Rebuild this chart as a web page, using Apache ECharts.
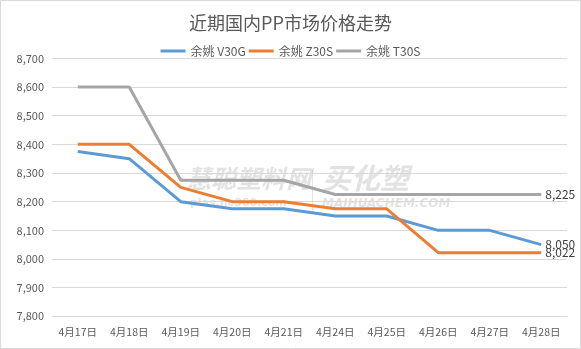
<!DOCTYPE html>
<html>
<head>
<meta charset="utf-8">
<script src="https://cdn.jsdelivr.net/npm/echarts@6/dist/echarts.min.js"></script>
<style>
  html, body { margin: 0; padding: 0; background: #fff; }
  #chart { width: 581px; height: 349px; }
</style>
</head>
<body>
<div id="chart"></div>
<script>
// Trading dates
const categories = ['4月17日', '4月18日', '4月19日', '4月20日', '4月21日', '4月24日', '4月25日', '4月26日', '4月27日', '4月28日'];
// Yuyao PP prices (yuan/ton)
const v30g = [8375, 8350, 8200, 8175, 8175, 8150, 8150, 8100, 8100, 8050];
const z30s = [8400, 8400, 8250, 8200, 8200, 8175, 8175, 8022, 8022, 8022];
const t30s = [8600, 8600, 8275, 8275, 8275, 8225, 8225, 8225, 8225, 8225];
const seriesNames = ['余姚 V30G', '余姚 Z30S', '余姚 T30S'];
const colors = ['#5B9BD5', '#ED7D31', '#A5A5A5'];

const FONT = '"Noto Sans CJK SC", "Microsoft YaHei", sans-serif';
const fmt = v => Number(v).toLocaleString('en-US');
const WM = 'rgba(175,175,175,0.36)';

// the final value of each line is written next to its end
const endLabel = {
  show: true,
  distance: 4,
  color: '#404040',
  fontSize: 12,
  fontFamily: FONT,
  formatter: p => fmt(p.value)
};

function lineSeries(i, values) {
  return {
    name: seriesNames[i],
    type: 'line',
    data: values,
    symbol: 'none',
    lineStyle: { width: 3, color: colors[i] },
    endLabel: endLabel,
    z: 3
  };
}

const chart = echarts.init(document.getElementById('chart'), null, { renderer: 'canvas' });
chart.setOption({
  backgroundColor: '#ffffff',
  animation: false,
  color: colors,
  title: {
    text: '近期国内PP市场价格走势',
    left: 'center',
    top: 9,
    textStyle: { color: '#595959', fontSize: 18, fontWeight: 'normal', fontFamily: FONT }
  },
  legend: {
    top: 40,
    left: 'center',
    icon: 'rect',
    itemWidth: 25,
    itemHeight: 3,
    itemGap: 3,
    textStyle: { color: '#595959', fontSize: 12, fontFamily: FONT },
    data: seriesNames
  },
  grid: { left: 52, right: 14, top: 58.4, bottom: 32.7, containLabel: false },
  xAxis: {
    type: 'category',
    data: categories,
    boundaryGap: true,
    axisLine: { lineStyle: { color: '#d9d9d9' } },
    axisTick: { show: false },
    axisLabel: { interval: 0, color: '#595959', fontSize: 10.5, fontFamily: FONT, margin: 10 }
  },
  yAxis: {
    type: 'value',
    min: 7800,
    max: 8700,
    interval: 100,
    axisLine: { show: false },
    axisTick: { show: false },
    splitLine: { lineStyle: { color: '#d9d9d9' } },
    axisLabel: { color: '#595959', fontSize: 11, fontFamily: FONT, margin: 8, formatter: fmt }
  },
  graphic: [
    { type: 'rect', shape: { x: 0.5, y: 0.5, width: 580, height: 348 }, style: { fill: 'none', stroke: '#d9d9d9', lineWidth: 1 }, silent: true },
    // faint site watermark behind the lines
    { type: 'text', left: 186, top: 166, z: 0, style: { text: '慧聪塑料网', fill: WM, font: 'italic bold 25px "Noto Sans CJK SC", sans-serif' }, silent: true },
    { type: 'text', left: 190, top: 198, z: 0, style: { text: 'plas.hc360.com', fill: WM, font: 'bold 11px "DejaVu Sans", sans-serif' }, silent: true },
    { type: 'rect', shape: { x: 312, y: 170, width: 1, height: 40 }, style: { fill: WM }, silent: true },
    { type: 'text', left: 322, top: 163, z: 0, style: { text: '买化塑', fill: WM, font: 'italic bold 29px "Noto Sans CJK SC", sans-serif' }, silent: true },
    { type: 'text', left: 322, top: 198, z: 0, style: { text: 'MAIHUACHEM.COM', fill: WM, font: 'italic bold 12px "DejaVu Sans", sans-serif' }, silent: true }
  ],
  series: [
    lineSeries(0, v30g),
    lineSeries(1, z30s),
    lineSeries(2, t30s)
  ]
});
</script>
</body>
</html>
